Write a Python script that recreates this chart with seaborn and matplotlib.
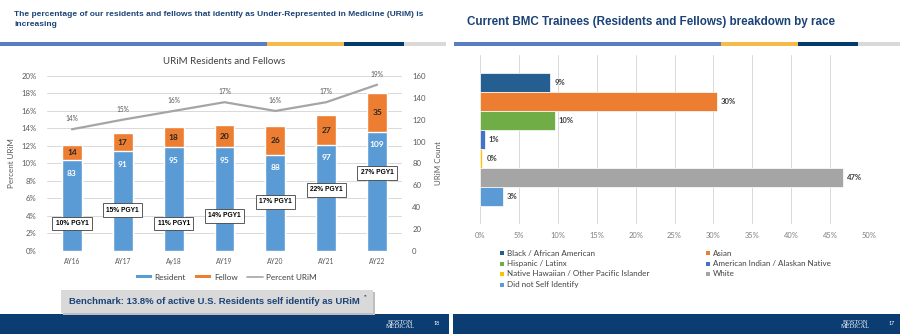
import numpy as np
import pandas as pd
import matplotlib
matplotlib.use("Agg")
import matplotlib.pyplot as plt
from matplotlib.patches import Rectangle, Patch
from matplotlib.lines import Line2D
import seaborn as sns

# ---------------- data ----------------
years = ["AY16", "AY17", "Ay18", "AY19", "AY20", "AY21", "AY22"]
resident = [83, 91, 95, 95, 88, 97, 109]
fellow = [14, 17, 18, 20, 26, 27, 35]
pct_urim = [13.9, 15.0, 16.0, 17.0, 16.0, 17.0, 19.0]
pgy1 = [10, 15, 11, 14, 17, 22, 27]
pgy1_box_y = [3.1, 4.65, 3.1, 4.0, 5.6, 6.95, 8.9]   # layout (percent axis)

races = ["Black / African American", "Asian", "Hispanic / Latinx",
         "American Indian / Alaskan Native", "Native Hawaiian / Other Pacific Islander",
         "White", "Did not Self Identify"]
race_pct = [9.0, 30.4, 9.6, 0.6, 0.3, 46.6, 2.9]
race_colors = ["#255E91", "#ED7D31", "#70AD47", "#4472C4", "#FFC000", "#A5A5A5", "#5B9BD5"]

# ---------------- style ----------------
sns.set_theme(style="white")
plt.rcParams["font.family"] = ["Lato", "DejaVu Sans"]

W, H = 900, 334
fig = plt.figure(figsize=(9, 3.34), dpi=100)
fig.patch.set_facecolor("white")


def rect(x0, y0, x1, y1):
    return [x0 / W, 1 - y1 / H, (x1 - x0) / W, (y1 - y0) / H]


def fbox(x0, y0, x1, y1, color, z=1, **kw):
    fig.add_artist(Rectangle((x0 / W, 1 - y1 / H), (x1 - x0) / W, (y1 - y0) / H,
                             transform=fig.transFigure, facecolor=color,
                             edgecolor="none", zorder=z, **kw))


def ftext(x, y, s, **kw):
    fig.text(x / W, 1 - y / H, s, **kw)


NAVY = "#0B3D73"
TITLE = "#1B4377"
BLUE_BAR = "#5A7EC6"
YELLOW_BAR = "#F5BC4C"
DARK_BAR = "#033A71"
GRAY_BAR = "#D9D9D9"

# ---------------- slide decorations ----------------
# left slide
ftext(14, 15, "The percentage of our residents and fellows that identify as Under-Represented in Medicine (URiM) is",
      fontsize=6.0, fontweight="bold", color=TITLE, family="Liberation Sans", va="center")
ftext(14, 25, "increasing", fontsize=6.0, fontweight="bold", color=TITLE,
      family="Liberation Sans", va="center")
fbox(0, 42.5, 267, 45.5, BLUE_BAR)
fbox(267, 42.5, 344, 45.5, YELLOW_BAR)
fbox(344, 42.5, 404, 45.5, DARK_BAR)
fbox(404, 42.5, 446, 45.5, GRAY_BAR)
fbox(0, 313.5, 449, 334, NAVY)
ftext(400, 324, "BOSTON\nMEDICAL", fontsize=4.6, color="white", family="Liberation Serif",
      ha="center", va="center", linespacing=0.75)
ftext(437, 323.5, "18", fontsize=3.8, color="white", ha="center", va="center")

# benchmark box
fbox(63, 292, 375, 314.5, "#BFBFBF", z=2)
fbox(61, 290, 373, 312.5, "#D9D9D9", z=3)
ftext(214, 301.5, "Benchmark: 13.8% of active U.S. Residents self identify as URiM",
      fontsize=6.8, fontweight="bold", color=TITLE, family="Liberation Sans",
      ha="center", va="center", zorder=4)
ftext(363.5, 296.5, "**", fontsize=3.4, color=TITLE, family="Liberation Sans",
      ha="left", va="center", zorder=4)

# right slide
ftext(467, 22, "Current BMC Trainees (Residents and Fellows) breakdown by race",
      fontsize=8.4, fontweight="bold", color=TITLE, family="Liberation Sans", va="center")
fbox(454, 42.5, 721, 45.5, BLUE_BAR)
fbox(721, 42.5, 798, 45.5, YELLOW_BAR)
fbox(798, 42.5, 858, 45.5, DARK_BAR)
fbox(858, 42.5, 900, 45.5, GRAY_BAR)
fbox(453, 313.5, 900, 334, NAVY)
ftext(855, 324, "BOSTON\nMEDICAL", fontsize=4.6, color="white", family="Liberation Serif",
      ha="center", va="center", linespacing=0.75)
ftext(892, 323.5, "17", fontsize=3.8, color="white", ha="center", va="center")

# ---------------- left chart ----------------
C_RES = "#5B9BD5"
C_FEL = "#ED7D31"
C_LINE = "#A5A5A5"
TICK_C = "#595959"

df = pd.DataFrame({"year": years, "resident": resident, "fellow": fellow, "pct": pct_urim})
df["total"] = df["resident"] + df["fellow"]

ax = fig.add_axes(rect(46.5, 76, 402.5, 250.7))
ax2 = ax.twinx()

sns.barplot(data=df, x="year", y="total", color=C_FEL, width=0.39, saturation=1,
            ax=ax2, zorder=2)
sns.barplot(data=df, x="year", y="resident", color=C_RES, width=0.39, saturation=1,
            ax=ax2, zorder=3)
xs = np.arange(len(years))
sns.lineplot(x=xs, y=df["pct"], color=C_LINE, linewidth=1.6, ax=ax)

ax.set_xlim(-0.5, len(years) - 0.5)
ax.set_ylim(0, 20)
ax2.set_ylim(0, 160)
ax.set_yticks(np.arange(0, 21, 2))
ax.set_yticklabels([f"{v}%" for v in range(0, 21, 2)])
ax2.set_yticks(np.arange(0, 161, 20))
ax.set_xticks(xs)
ax.set_xticklabels(years)
for a in (ax, ax2):
    for s in a.spines.values():
        s.set_visible(False)
    a.grid(False)
ax.yaxis.grid(True, color="#D9D9D9", linewidth=0.7)
ax.set_axisbelow(True)
ax.tick_params(axis="y", labelsize=5.6, colors=TICK_C, length=0, pad=7)
ax.tick_params(axis="x", labelsize=4.8, colors=TICK_C, length=0, pad=5)
ax2.tick_params(axis="y", labelsize=5.6, colors=TICK_C, length=0, pad=7)
ax.set_xlabel("")
ax2.set_xlabel("")
ax.set_ylabel("Percent URiM", fontsize=5.8, color=TICK_C, labelpad=5)
ax2.set_ylabel("URiM Count", fontsize=5.8, color=TICK_C, labelpad=7)
ax.set_title("URiM Residents and Fellows", fontsize=7, color="#404040", pad=9)

for i in range(len(years)):
    r, f = resident[i], fellow[i]
    ax2.annotate(f"{r}", (i, r), xytext=(0, -9.5), textcoords="offset points",
                 ha="center", va="center", fontsize=6, fontweight="bold",
                 color="white", zorder=5)
    ax2.annotate(f"{f}", (i, r + f / 2), ha="center", va="center", fontsize=6,
                 fontweight="bold", color="#262626", zorder=5)
    ax.annotate(f"{pct_urim[i]:.0f}%", (i, pct_urim[i]), xytext=(0, 7.5),
                textcoords="offset points", ha="center", va="center",
                fontsize=4.8, color=TICK_C)
    ax2.text(i, pgy1_box_y[i], f"{pgy1[i]}% PGY1", transform=ax.transData,
             ha="center", va="center", fontsize=4.8, fontweight="bold",
             family="Liberation Sans", color="black", zorder=6,
             bbox=dict(boxstyle="square,pad=0.5", facecolor="white",
                       edgecolor="#404040", linewidth=0.6))

handles = [Patch(facecolor=C_RES, edgecolor="none", label="Resident"),
           Patch(facecolor=C_FEL, edgecolor="none", label="Fellow"),
           Line2D([], [], color=C_LINE, linewidth=1.2, label="Percent URiM")]
leg = fig.legend(handles=handles, loc="center", bbox_to_anchor=(226 / W, 1 - 277 / H),
                 ncol=3, frameon=False, fontsize=5.9, handlelength=2.0,
                 handleheight=0.35, handletextpad=0.3, columnspacing=1.1)
for t in leg.get_texts():
    t.set_color("#404040")

# ---------------- right chart ----------------
dfr = pd.DataFrame({"race": races, "pct": race_pct})
ax3 = fig.add_axes(rect(480, 55, 869, 224))
sns.barplot(data=dfr, y="race", x="pct", hue="race", palette=race_colors,
            orient="h", width=1.0, saturation=1, edgecolor="white", linewidth=0.5,
            legend=False, ax=ax3, zorder=3)
ax3.set_xlim(0, 50)
ax3.set_ylim(len(races) - 0.5 + 0.93, -0.5 - 0.93)
ax3.set_xticks(np.arange(0, 51, 5))
ax3.set_xticklabels([f"{v}%" for v in range(0, 51, 5)])
ax3.set_yticks([])
ax3.set_xlabel("")
ax3.set_ylabel("")
for s in ax3.spines.values():
    s.set_visible(False)
ax3.grid(False)
ax3.xaxis.grid(True, color="#D9D9D9", linewidth=0.7)
ax3.set_axisbelow(True)
ax3.tick_params(axis="x", labelsize=5.4, colors="#7F7F7F", length=0, pad=6)
for i, v in enumerate(race_pct):
    ax3.annotate(f"{v:.0f}%", (v, i), xytext=(3, 0), textcoords="offset points",
                 ha="left", va="center", fontsize=5.5, fontweight="bold", color="#404040")

# legend (two columns, row-major order)
col_x = [500, 706]
row_y = [253, 263.5, 274, 284.5]
for k, (name, colr) in enumerate(zip(races, race_colors)):
    cx = col_x[k % 2]
    cy = row_y[k // 2]
    fbox(cx, cy - 2, cx + 4, cy + 2, colr, z=3)
    ftext(cx + 7, cy, name, fontsize=5.8, color="#404040", va="center", ha="left")

fig.savefig("out.png", dpi=100)
